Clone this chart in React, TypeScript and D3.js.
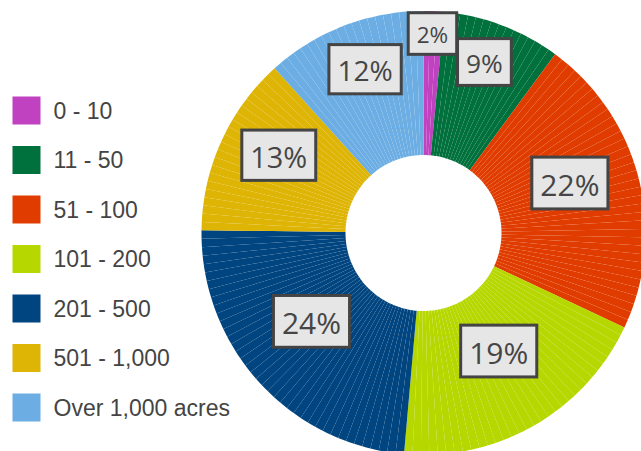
import React, { useEffect, useRef } from "react";
import * as d3 from "d3";

const categories = ["0 - 10", "11 - 50", "51 - 100", "101 - 200", "201 - 500", "501 - 1,000", "Over 1,000 acres"];
const values = [1.5, 8.6, 21.9, 19.4, 23.8, 13.1, 11.7];
const colors = ["#c142c1", "#00703c", "#e03c00", "#b6d700", "#004580", "#deb405", "#6caee3"];

const W = 641;
const H = 451;
const CX = 423.5;
const CY = 233;
const R_OUT = 222;
const R_IN = 78;

export default function App() {
  const ref = useRef<SVGSVGElement | null>(null);

  useEffect(() => {
    const svg = d3.select(ref.current);
    svg.selectAll("*").remove();

    const data = categories.map((c, i) => ({ cat: c, value: values[i], color: colors[i] }));
    const pie = d3.pie<any>().sort(null).value((d) => d.value);
    const arcs = pie(data);
    const arc = d3.arc<any>().innerRadius(R_IN).outerRadius(R_OUT);

    const g = svg.append("g").attr("transform", `translate(${CX},${CY})`);

    // slices drawn as many thin sub-wedges
    const step = (2.2 * Math.PI) / 180;
    arcs.forEach((a) => {
      const span = a.endAngle - a.startAngle;
      const n = Math.max(1, Math.ceil(span / step));
      const pieces = d3.range(n).map((k) => ({
        startAngle: a.startAngle + (span * k) / n,
        endAngle: a.startAngle + (span * (k + 1)) / n,
      }));
      g.append("g")
        .selectAll("path")
        .data(pieces)
        .enter()
        .append("path")
        .attr("d", arc as any)
        .attr("fill", a.data.color);
    });

    // labels
    const fontScale = d3.scaleLinear().domain([2, 15]).range([22.5, 30]).clamp(true);
    const radScale = d3.scaleLinear().domain([1.5, 16]).range([190, 151]).clamp(true);
    arcs.forEach((a) => {
      const mid = (a.startAngle + a.endAngle) / 2;
      const r = radScale(a.data.value);
      const x = Math.sin(mid) * r;
      const y = -Math.cos(mid) * r;
      const fs = fontScale(a.data.value);
      const lg = g.append("g").attr("transform", `translate(${x},${y})`);
      const rect = lg.append("rect");
      const t = lg
        .append("text")
        .attr("text-anchor", "middle")
        .attr("y", 0)
        .attr("font-family", "'Open Sans', 'DejaVu Sans', sans-serif")
        .attr("font-size", fs)
        .attr("fill", "#454545")
        .text(`${Math.round(a.data.value)}%`);
      const tw = (t.node() as SVGTextElement).getComputedTextLength();
      const bw = tw + 17;
      const bh = fs * 1.36 + 11;
      const cy = -fs * 0.43;
      rect
        .attr("x", -bw / 2)
        .attr("y", cy - bh / 2)
        .attr("width", bw)
        .attr("height", bh)
        .attr("fill", "#e6e6e6")
        .attr("stroke", "#444444")
        .attr("stroke-width", 3);
    });

    // legend
    const legend = svg.append("g");
    const ly = d3.scaleLinear().domain([0, categories.length - 1]).range([96.5, 393.5]);
    categories.forEach((c, i) => {
      const row = legend.append("g").attr("transform", `translate(12.5,${ly(i)})`);
      row.append("rect").attr("width", 28).attr("height", 28).attr("fill", colors[i]);
      row
        .append("text")
        .attr("x", 41)
        .attr("y", 22)
        .attr("font-family", "'Liberation Sans', Arial, sans-serif")
        .attr("font-size", 23)
        .attr("fill", "#444444")
        .text(c);
    });
  }, []);

  return (
    <svg
      ref={ref}
      width={W}
      height={H}
      style={{ position: "absolute", left: 0, top: 0, background: "#ffffff" }}
    />
  );
}
